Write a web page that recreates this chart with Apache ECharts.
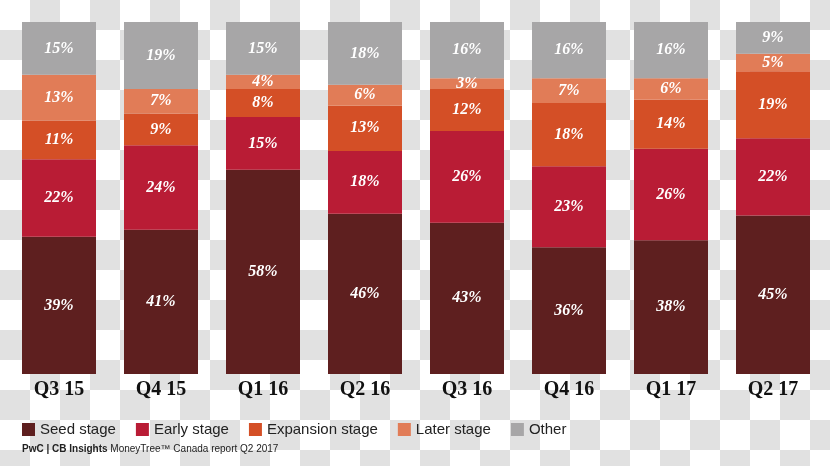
<!DOCTYPE html>
<html>
<head>
<meta charset="utf-8">
<script src="https://cdn.jsdelivr.net/npm/echarts@6/dist/echarts.min.js"></script>
<style>
html,body{margin:0;padding:0;}
body{width:830px;height:466px;background-color:#fff;
background-image:repeating-conic-gradient(#e1e1e1 0 25%, #ffffff 0 50%);
background-size:60px 60px;background-position:0 0;}
#chart{width:830px;height:466px;}
</style>
</head>
<body>
<div id="chart"></div>
<script>
const categories = ['Q3 15','Q4 15','Q1 16','Q2 16','Q3 16','Q4 16','Q1 17','Q2 17'];
const seedStage      = [39, 41, 58, 46, 43, 36, 38, 45];
const earlyStage     = [22, 24, 15, 18, 26, 23, 26, 22];
const expansionStage = [11,  9,  8, 13, 12, 18, 14, 19];
const laterStage     = [13,  7,  4,  6,  3,  7,  6,  5];
const otherStage     = [15, 19, 15, 18, 16, 16, 16,  9];

const seriesNames = ['Seed stage','Early stage','Expansion stage','Later stage','Other'];
const seriesValues = [seedStage, earlyStage, expansionStage, laterStage, otherStage];
const colors = ['#5e1f1f','#b91c35','#d44f26','#e17c57','#a7a6a7'];

// bars are drawn as shares of each column's total (labels keep the printed figures)
const totals = categories.map((_, i) => seriesValues.reduce((s, arr) => s + arr[i], 0));

const series = seriesNames.map((name, si) => ({
  name: name,
  type: 'bar',
  stack: 'all',
  barWidth: 74,
  itemStyle: { color: colors[si] },
  label: {
    show: true,
    position: 'inside',
    color: '#ffffff',
    fontFamily: 'Liberation Serif',
    fontStyle: 'italic',
    fontWeight: 'bold',
    fontSize: 16,
    formatter: p => seriesValues[si][p.dataIndex] + '%'
  },
  data: seriesValues[si].map((v, i) => v / totals[i] * 100)
}));

const chart = echarts.init(document.getElementById('chart'), null, {renderer: 'canvas'});
chart.setOption({
  animation: false,
  backgroundColor: 'transparent',
  grid: { left: 8, right: 6, top: 22, bottom: 92, containLabel: false },
  xAxis: {
    type: 'category',
    data: categories,
    axisLine: { show: false },
    axisTick: { show: false },
    axisLabel: {
      color: '#111',
      fontFamily: 'Liberation Serif',
      fontWeight: 'bold',
      fontSize: 20,
      margin: 6
    }
  },
  yAxis: {
    type: 'value',
    min: 0,
    max: 100,
    show: false,
    splitLine: { show: false }
  },
  legend: {
    left: 22,
    top: 422,
    padding: 0,
    itemWidth: 13,
    itemHeight: 13,
    itemGap: 20,
    icon: 'rect',
    textStyle: { fontFamily: 'Liberation Sans', fontSize: 15, color: '#222' },
    data: seriesNames
  },
  title: {
    left: 22,
    top: 444,
    padding: 0,
    text: '{b|PwC | CB Insights} {r|MoneyTree™ Canada report Q2 2017}',
    textStyle: {
      fontWeight: 'normal',
      fontSize: 10,
      fontFamily: 'Liberation Sans',
      rich: {
        b: { fontFamily: 'Liberation Sans', fontWeight: 'bold', fontSize: 10, color: '#222' },
        r: { fontFamily: 'Liberation Sans', fontWeight: 'normal', fontSize: 10, color: '#222' }
      }
    }
  },
  series: series
});
</script>
</body>
</html>
